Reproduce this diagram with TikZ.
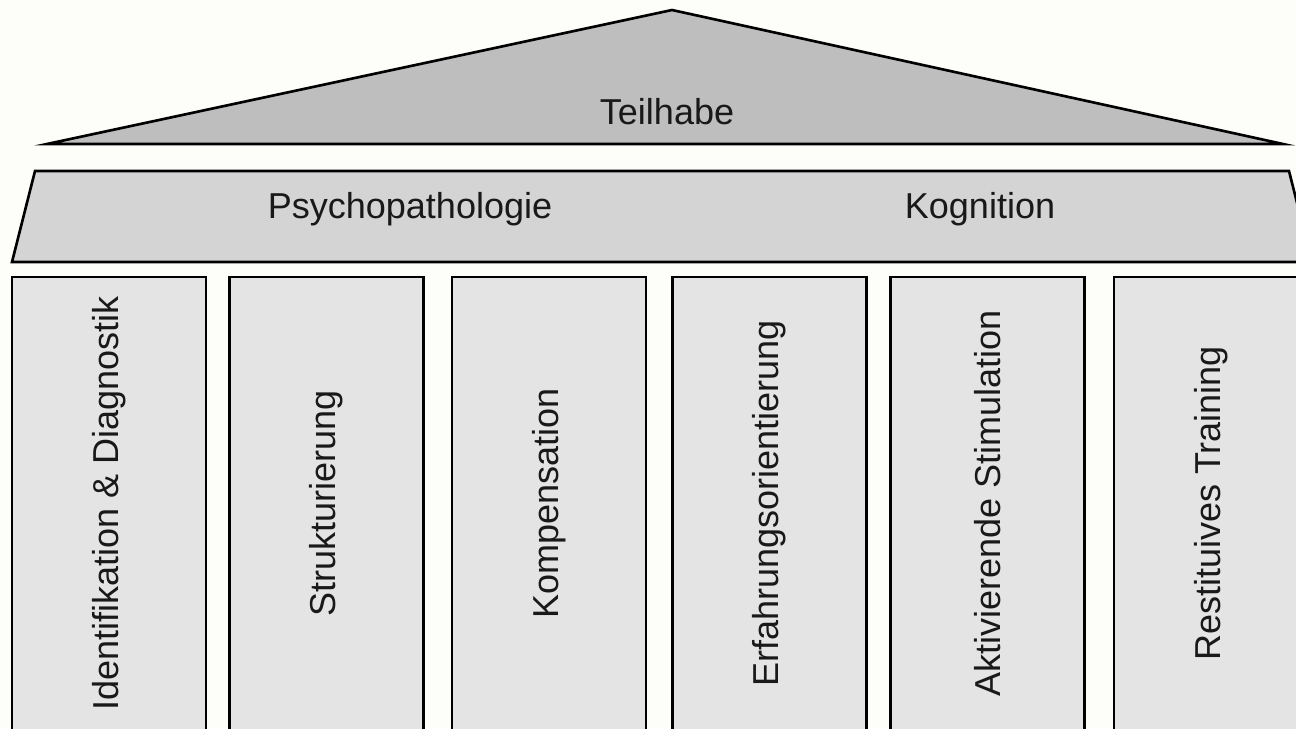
\documentclass[tikz,border=0pt]{standalone}
\usepackage{fontspec}
\setmainfont{Liberation Sans}
\usetikzlibrary{positioning}

\definecolor{paper}{HTML}{FDFDF9}
\definecolor{roofgray}{HTML}{BEBEBE}
\definecolor{beamgray}{HTML}{D4D4D4}
\definecolor{pillargray}{HTML}{E4E4E4}

\begin{document}
\begin{tikzpicture}[
        x=0.02cm, y=-0.02cm,
        every node/.style={font=\fontsize{20.5}{24}\selectfont, text=black!90},
        roof/.style={draw, fill=roofgray, line width=1.5pt, line join=miter},
        beam/.style={draw, fill=beamgray, line width=1.5pt, line join=miter},
        pillar/.style={draw, fill=pillargray, line width=1.5pt, rotate=90,
            minimum width=9.06cm, minimum height=3.88cm, inner sep=0pt},
        caption/.style={anchor=base, inner sep=0pt}
    ]

    \useasboundingbox (0,0) rectangle (1296,728);
    \clip (0,0) rectangle (1296,728);
    \fill[paper] (0,0) rectangle (1296,728);

    % Roof and beam
    \draw[roof] (47,144) -- (672,10) -- (1283,144) -- cycle;
    \draw[beam] (35,171) -- (1289,171) -- (1312,262) -- (12,262) -- cycle;

    % Nodes
    \node[caption] (teilhabe) at (667,124) {Teilhabe};
    \node[caption] (psycho) at (410,218) {Psychopathologie};
    \node[caption] (kognition) at (980,218) {Kognition};

    \node[pillar] (ident) at (109,503.5) {Identifikation \& Diagnostik};
    \node[pillar] (struk) at (326.5,503.5) {Strukturierung};
    \node[pillar] (kompens) at (549,503.5) {Kompensation};
    \node[pillar] (erfahr) at (769.5,503.5) {Erfahrungsorientierung};
    \node[pillar] (aktiv) at (987.5,503.5) {Aktivierende Stimulation};
    \node[pillar] (restit) at (1211,503.5) {Restituives Training};

\end{tikzpicture}
\end{document}
